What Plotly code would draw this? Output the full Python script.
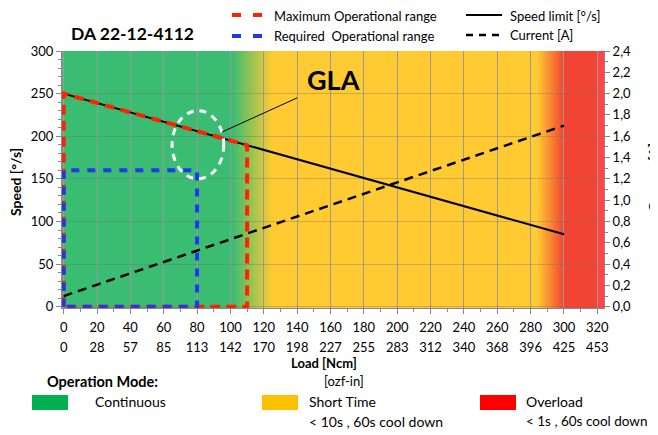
import base64
import struct
import zlib
import plotly.graph_objects as go

# ---------------- data ----------------
speed_limit_load = [0, 300]
speed_limit_speed = [250, 85]
current_load = [0, 300]
current_amp = [0.1, 1.7]
max_range_load = [0, 0, 110, 110, 0]
max_range_speed = [0, 250, 189.5, 0, 0]
req_range_load = [0, 0, 80, 80, 0]
req_range_speed = [0, 160, 160, 0, 0]

ncm_ticks = [0, 20, 40, 60, 80, 100, 120, 140, 160, 180, 200, 220, 240, 260, 280, 300, 320]
ozfin_labels = ["0", "28", "57", "85", "113", "142", "170", "198", "227", "255",
                "283", "312", "340", "368", "396", "425", "453"]
speed_ticks = [0, 50, 100, 150, 200, 250, 300]
current_ticks = [0.0, 0.2, 0.4, 0.6, 0.8, 1.0, 1.2, 1.4, 1.6, 1.8, 2.0, 2.2, 2.4]

# operation-mode background zones (load value, rgb)
zone_stops = [
    (-1, (58, 189, 115)),
    (101, (58, 189, 115)),
    (125, (255, 202, 50)),
    (284, (255, 202, 50)),
    (300, (242, 68, 52)),
    (320, (242, 68, 52)),
    (320.5, (255, 70, 70)),
    (324, (255, 70, 70)),
]
ellipse_box = dict(x0=65, x1=96, y0=150, y1=230)
gla_line = dict(x0=95, y0=205, x1=140, y1=245)
gla_text_pos = (162, 266)

X_RANGE = [-1, 324]
Y_RANGE = [-1.5, 300]
Y2_RANGE = [Y_RANGE[0] / 300 * 2.4, 2.4]

FONT = "Lato"
OFF = 8  # page body margin
L, R, T, B = 62 - OFF, 54, 51 - OFF, 127
W, H = 658 - OFF, 435 - OFF
PW, PH = W - L - R, H - T - B


def px_x(px):
    return (px - OFF - L) / PW


def px_y(py):
    return (H - B - (py - OFF)) / PH


def zone_color(v):
    for (a, ca), (b, cb) in zip(zone_stops[:-1], zone_stops[1:]):
        if a <= v <= b:
            t = 0 if b == a else (v - a) / (b - a)
            return tuple(int(round(ca[i] + (cb[i] - ca[i]) * t)) for i in range(3))
    return zone_stops[-1][1]


def make_png(colors, rows=4):
    w = len(colors)
    row = b"\x00" + bytes(c for rgb in colors for c in rgb)
    raw = row * rows

    def chunk(tag, data):
        return (struct.pack(">I", len(data)) + tag + data +
                struct.pack(">I", zlib.crc32(tag + data) & 0xFFFFFFFF))

    ihdr = struct.pack(">IIBBBBB", w, rows, 8, 2, 0, 0, 0)
    return (b"\x89PNG\r\n\x1a\n" + chunk(b"IHDR", ihdr) +
            chunk(b"IDAT", zlib.compress(raw)) + chunk(b"IEND", b""))


n_px = 650
span = X_RANGE[1] - X_RANGE[0]
cols = [zone_color(X_RANGE[0] + (i + 0.5) * span / n_px) for i in range(n_px)]
bg_src = "data:image/png;base64," + base64.b64encode(make_png(cols)).decode()

RED = "#ff2200"
BLUE = "#2038ec"

fig = go.Figure()
fig.add_trace(go.Scatter(x=speed_limit_load, y=speed_limit_speed, mode="lines",
                         line=dict(color="black", width=2), hoverinfo="skip",
                         showlegend=False))
fig.add_trace(go.Scatter(x=current_load, y=current_amp, mode="lines", yaxis="y2",
                         line=dict(color="black", width=2.5, dash="9px,6px"),
                         hoverinfo="skip", showlegend=False))
fig.add_trace(go.Scatter(x=max_range_load, y=max_range_speed, mode="lines",
                         line=dict(color=RED, width=4, dash="10px,6px"),
                         hoverinfo="skip", showlegend=False))
fig.add_trace(go.Scatter(x=req_range_load, y=req_range_speed, mode="lines",
                         line=dict(color=BLUE, width=4, dash="8px,8px"),
                         hoverinfo="skip", showlegend=False))
fig.add_trace(go.Scatter(x=ncm_ticks[:1], y=[0], xaxis="x2", mode="markers",
                         marker=dict(opacity=0), hoverinfo="skip", showlegend=False))

shapes = []
# ellipse highlight
shapes.append(dict(type="circle", xref="x", yref="y", **ellipse_box,
                   line=dict(color="white", width=3, dash="7px,6px"), layer="above"))
# GLA pointer
shapes.append(dict(type="line", xref="x", yref="y", **gla_line,
                   line=dict(color="black", width=1)))

annotations = []


def text(px, py, s, size=13, bold=False, xanchor="left", angle=0, color="black"):
    annotations.append(dict(
        x=px_x(px), y=px_y(py), xref="paper", yref="paper", text=f"<b>{s}</b>" if bold else s,
        showarrow=False, xanchor=xanchor, yanchor="middle", textangle=angle,
        font=dict(family=FONT, size=size, color=color)))


# top legend
def legend_line(x0, x1, py, color, width, dash):
    shapes.append(dict(type="line", xref="paper", yref="paper",
                       x0=px_x(x0), x1=px_x(x1), y0=px_y(py), y1=px_y(py),
                       line=dict(color=color, width=width, dash=dash)))


legend_line(232, 262, 15, RED, 4, "9px,12px")
text(272, 16, "Maximum Operational range")
legend_line(232, 262, 36, BLUE, 4, "9px,12px")
text(272, 36, "Required\u00a0 Operational range")
legend_line(466, 502, 15, "black", 2, "solid")
text(508, 16, "Speed limit [°/s]")
legend_line(466, 502, 35, "black", 2.5, "7px,6px")
text(508, 35, "Current [A]")

# title
text(132, 33, "DA 22-12-4112", size=17.5, bold=True, xanchor="center")
# GLA
annotations.append(dict(x=gla_text_pos[0], y=gla_text_pos[1], xref="x", yref="y",
                        text="<b>GLA</b>", showarrow=False,
                        font=dict(family=FONT, size=27, color="black")))
# axis titles
text(15, 182, "Speed [°/s]", size=14, bold=True, xanchor="center", angle=-90)
text(653, 178, "Current [A]", size=14, bold=True, xanchor="center", angle=-90)
text(324, 363, "Load [Ncm]", size=13, bold=True, xanchor="center")
text(344, 381, "[ozf-in]", size=13, xanchor="center")

# bottom operation-mode legend
text(102, 382, "Operation Mode:", size=14.5, bold=True, xanchor="center")
modes = [
    (32, "#00b050", "Continuous", None, 93, 14),
    (262, "#ffc000", "Short Time", "&lt; 10s , 60s cool down", 307, 14),
    (480, "#ff0000", "Overload", "&lt; 1s , 60s cool down", 524, 13.5),
]
for bx, col, label, sub, tx, fs in modes:
    shapes.append(dict(type="rect", xref="paper", yref="paper",
                       x0=px_x(bx), x1=px_x(bx + 36), y0=px_y(410), y1=px_y(395),
                       fillcolor=col, line=dict(width=0)))
    text(tx, 401, label, size=14)
    if sub:
        text(tx, 421, sub, size=fs)

axis_common = dict(showline=True, linecolor="#888", linewidth=1,
                   tickfont=dict(family=FONT, size=13, color="black"),
                   ticks="outside", ticklen=5, tickcolor="#888")

fig.update_layout(
    width=W, height=H,
    margin=dict(l=L, r=R, t=T, b=B, pad=0),
    paper_bgcolor="white", plot_bgcolor="white",
    separators=",.",
    font=dict(family=FONT, size=13, color="black"),
    xaxis=dict(range=X_RANGE, tickvals=ncm_ticks, showgrid=True, gridcolor="#999",
               gridwidth=1, zeroline=False, ticklabelstandoff=2,
               minor=dict(ticks="outside", ticklen=3, dtick=10, tick0=0, tickcolor="#888"),
               **axis_common),
    xaxis2=dict(range=X_RANGE, overlaying="x", anchor="y", side="bottom",
                tickvals=ncm_ticks, ticktext=ozfin_labels, showgrid=False,
                zeroline=False, showline=False, ticks="", ticklabelstandoff=30,
                tickfont=dict(family=FONT, size=13, color="black")),
    yaxis=dict(range=Y_RANGE, tickvals=speed_ticks, showgrid=True,
               gridcolor="rgba(110,110,110,0.35)", gridwidth=1, zeroline=False,
               minor=dict(ticks="outside", ticklen=3, dtick=10, tick0=0, tickcolor="#888"),
               **axis_common),
    yaxis2=dict(range=Y2_RANGE, overlaying="y", side="right", anchor="x",
                tickvals=current_ticks, tickformat=".1f", showgrid=False, zeroline=False,
                minor=dict(ticks="outside", ticklen=3, dtick=0.1, tick0=0, tickcolor="#888"),
                **axis_common),
    images=[dict(source=bg_src, xref="x", yref="y", x=X_RANGE[0], y=Y_RANGE[1],
                 sizex=span, sizey=Y_RANGE[1] - Y_RANGE[0], sizing="stretch",
                 xanchor="left", yanchor="top", layer="below")],
    shapes=shapes,
    annotations=annotations,
)

fig.write_html("out.html")
